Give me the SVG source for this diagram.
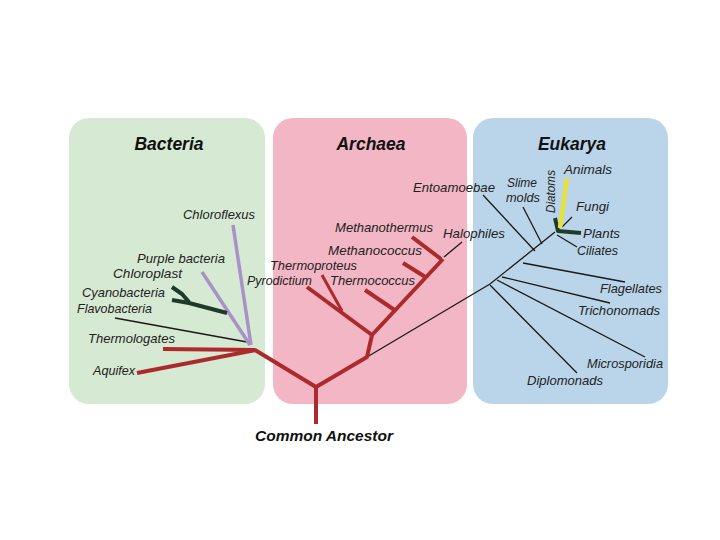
<svg xmlns="http://www.w3.org/2000/svg" width="720" height="540" viewBox="0 0 720 540">
<style>
.panel{stroke:none}
.title{font-family:"Liberation Sans",Arial,sans-serif;font-style:italic;font-weight:bold;font-size:17.5px;fill:#111;text-anchor:middle}
.lbl{font-family:"Liberation Sans",Arial,sans-serif;font-style:italic;font-size:13px;fill:#222}
.red{stroke:#ad2a2c;stroke-width:4;fill:none;stroke-linejoin:round}
.pur{stroke:#a892c8;stroke-width:3.5;fill:none}
.dg{stroke:#1f3a2a;stroke-width:4;fill:none;stroke-linejoin:round}
.thin{stroke:#1a1a1a;stroke-width:1.3;fill:none}
.yel{stroke:#e6e23c;stroke-width:4.5;fill:none}
</style>
<rect width="720" height="540" fill="#ffffff"/>
<g id="panel-bacteria">
<rect class="panel" x="69" y="118" width="196" height="286" rx="20" fill="#d6e9d2"/>
<text class="title" x="169" y="150">Bacteria</text>
</g>
<g id="panel-archaea">
<rect class="panel" x="273" y="118" width="194" height="286" rx="20" fill="#f2b6c4"/>
<text class="title" x="371" y="150">Archaea</text>
</g>
<g id="panel-eukarya">
<rect class="panel" x="473" y="118" width="195" height="286" rx="20" fill="#bad5e9"/>
<text class="title" x="572" y="150">Eukarya</text>
</g>
<g id="connectors">
<path class="thin" d="M367,357 L490,284 L555,232"/>
<path class="thin" d="M115,318 L247,342"/>
<path class="thin" d="M444,257 L462,242"/>
<path class="thin" d="M490,285 L577,373"/>
<path class="thin" d="M497,280 L645,357"/>
<path class="thin" d="M502,277 L610,303"/>
<path class="thin" d="M523,263 L625,282"/>
<path class="thin" d="M483,195 L535,251"/>
<path class="thin" d="M523,207 L542,244"/>
<path class="thin" d="M557,235 L577,247"/>
<path class="thin" d="M562,227 L572,217"/>
<path class="pur" d="M233,225 L251,345"/>
<path class="pur" d="M202,272 L250,345"/>
<path class="dg" d="M172,287 L182,294 L189,302"/>
<path class="dg" d="M172,300 L189,303 L227,313"/>
<path class="dg" d="M555,218 L558,231 L581,233"/>
<path class="yel" d="M567,178 L560,228"/>
<path class="red" d="M316,424 L316,387 L255,350"/>
<path class="red" d="M316,387 L367,357 L372,335 L443,259"/>
<path class="red" d="M163,349 L255,350"/>
<path class="red" d="M137,373 L256,350"/>
<path class="red" d="M372,335 L307,287"/>
<path class="red" style="stroke-width:3" d="M342,311 L322,275"/>
<path class="red" d="M365,290 L396,311"/>
<path class="red" d="M403,263 L427,278"/>
<path class="red" d="M412,237 L441,259"/>
</g>
<g id="labels">
<text class="lbl" x="183" y="219" textLength="72" lengthAdjust="spacingAndGlyphs">Chloroflexus</text>
<text class="lbl" x="137" y="263" textLength="88" lengthAdjust="spacingAndGlyphs">Purple bacteria</text>
<text class="lbl" x="113" y="278" textLength="69" lengthAdjust="spacingAndGlyphs">Chloroplast</text>
<text class="lbl" x="82" y="297" textLength="83" lengthAdjust="spacingAndGlyphs">Cyanobacteria</text>
<text class="lbl" x="77" y="313" textLength="75" lengthAdjust="spacingAndGlyphs">Flavobacteria</text>
<text class="lbl" x="88" y="343" textLength="87" lengthAdjust="spacingAndGlyphs">Thermologates</text>
<text class="lbl" x="93" y="375" textLength="42" lengthAdjust="spacingAndGlyphs">Aquifex</text>
<text class="lbl" x="335" y="232" textLength="98" lengthAdjust="spacingAndGlyphs">Methanothermus</text>
<text class="lbl" x="443" y="238" textLength="62" lengthAdjust="spacingAndGlyphs">Halophiles</text>
<text class="lbl" x="328" y="255" textLength="94" lengthAdjust="spacingAndGlyphs">Methanococcus</text>
<text class="lbl" x="270" y="270" textLength="87" lengthAdjust="spacingAndGlyphs">Thermoproteus</text>
<text class="lbl" x="247" y="285" textLength="65" lengthAdjust="spacingAndGlyphs">Pyrodictium</text>
<text class="lbl" x="330" y="285" textLength="85" lengthAdjust="spacingAndGlyphs">Thermococcus</text>
<text class="lbl" x="413" y="192" textLength="82" lengthAdjust="spacingAndGlyphs">Entoamoebae</text>
<text class="lbl" x="507" y="187" textLength="30" lengthAdjust="spacingAndGlyphs">Slime</text>
<text class="lbl" x="506" y="202" textLength="34" lengthAdjust="spacingAndGlyphs">molds</text>
<text class="lbl" transform="translate(555,213) rotate(-90)" textLength="43" lengthAdjust="spacingAndGlyphs">Diatoms</text>
<text class="lbl" x="564" y="174" textLength="48" lengthAdjust="spacingAndGlyphs">Animals</text>
<text class="lbl" x="576" y="211" textLength="33" lengthAdjust="spacingAndGlyphs">Fungi</text>
<text class="lbl" x="583" y="238" textLength="37" lengthAdjust="spacingAndGlyphs">Plants</text>
<text class="lbl" x="577" y="255" textLength="41" lengthAdjust="spacingAndGlyphs">Ciliates</text>
<text class="lbl" x="600" y="293" textLength="62" lengthAdjust="spacingAndGlyphs">Flagellates</text>
<text class="lbl" x="578" y="315" textLength="82" lengthAdjust="spacingAndGlyphs">Trichonomads</text>
<text class="lbl" x="587" y="368" textLength="76" lengthAdjust="spacingAndGlyphs">Microsporidia</text>
<text class="lbl" x="527" y="385" textLength="76" lengthAdjust="spacingAndGlyphs">Diplomonads</text>
</g>
<g id="common-ancestor">
<text x="324" y="441" font-family="Liberation Sans, Arial, sans-serif" font-style="italic" font-weight="bold" font-size="15" fill="#111" text-anchor="middle" textLength="138" lengthAdjust="spacingAndGlyphs">Common Ancestor</text>
</g>
</svg>
